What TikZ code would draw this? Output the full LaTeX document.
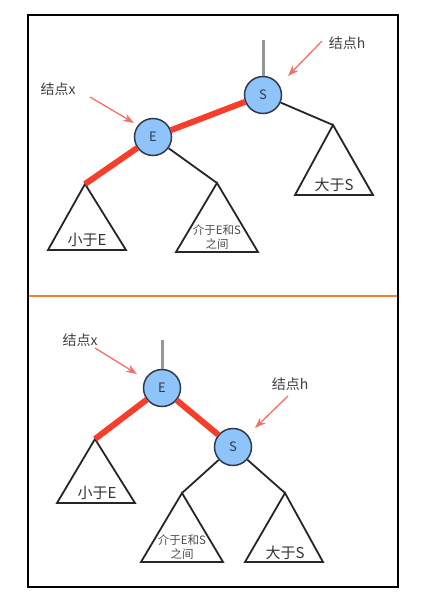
\documentclass[tikz,border=0pt]{standalone}
\usepackage{fontspec}
\newfontfamily\cjk{Noto Sans CJK SC}
\usepackage{tikz}
\usetikzlibrary{positioning, arrows.meta}
\definecolor{nodeblue}{RGB}{142,196,250}
\definecolor{nodeedge}{RGB}{48,58,78}
\definecolor{linkred}{RGB}{248,62,42}
\definecolor{pointer}{RGB}{244,112,100}
\definecolor{stubgray}{RGB}{150,150,150}
\definecolor{divider}{RGB}{245,130,40}

\begin{document}
\begin{tikzpicture}[
  x=1pt, y=-1pt,
  rb/.style={circle, draw=nodeedge, fill=nodeblue, line width=1.5pt, minimum size=37pt, inner sep=0pt, font=\cjk\fontsize{13}{13}\selectfont, text=nodeedge},
  tree/.style={draw=black!85, line width=1.8pt, line join=miter},
  edge/.style={draw=black!85, line width=1.8pt},
  redlink/.style={draw=linkred, line width=6pt},
  stub/.style={draw=stubgray, line width=3pt},
  lbl/.style={font=\cjk\fontsize{14}{14}\selectfont, text=black!75, inner sep=1pt},
  subt/.style={font=\cjk\fontsize{15}{15}\selectfont, text=black!80, inner sep=0pt},
  subtsmall/.style={font=\cjk\fontsize{11.5}{14}\selectfont, text=black!70, align=center, inner sep=0pt},
  ptr/.style={->, >={Stealth[length=11pt, width=8pt]}, draw=pointer, line width=1.3pt}
]
\useasboundingbox (0,0) rectangle (442,606);

% frame
\draw[black, line width=2.5pt] (28,15) rectangle (398,587);
\draw[divider, line width=2pt] (29,296) -- (397,296);

% ---- before rotation ----
\node[rb] (s1) at (263,95) {S};
\node[rb] (e1) at (153,137) {E};
\coordinate (lt1) at (85,184);
\coordinate (mt1) at (217,183);
\coordinate (rt1) at (333,125);
\coordinate (top1) at (263,40);

\draw[tree] (lt1) -- (48,250) -- (126,250) -- cycle;
\draw[tree] (mt1) -- (176,252) -- (258,252) -- cycle;
\draw[tree] (rt1) -- (295,195) -- (373,195) -- cycle;
\node[subt] (lt1txt) at (87,240) {小于E};
\node[subtsmall] (mt1txt) at (217,237) {介于E和S\\之间};
\node[subt] (rt1txt) at (334,185) {大于S};

\draw[stub] (top1) -- (s1);
\draw[redlink] (s1) -- (e1);
\draw[redlink] (e1) -- (lt1);
\draw[edge] (e1) -- (mt1);
\draw[edge] (s1) -- (rt1);

\node[lbl] (h1) at (347,43) {结点h};
\node[lbl] (x1) at (58,89) {结点x};
\coordinate (h1from) at (322,41);
\coordinate (x1from) at (90,97);
\draw[ptr] (h1from) -- (288,76);
\draw[ptr] (x1from) -- (134,123);

% ---- after rotation ----
\node[rb] (e2) at (162,388) {E};
\node[rb] (s2) at (233,447) {S};
\coordinate (lt2) at (95,439);
\coordinate (mt2) at (182,493);
\coordinate (rt2) at (285,493);
\coordinate (top2) at (162,340);

\draw[tree] (lt2) -- (57,503) -- (135,503) -- cycle;
\draw[tree] (mt2) -- (141,562) -- (223,562) -- cycle;
\draw[tree] (rt2) -- (245,562) -- (323,562) -- cycle;
\node[subt] (lt2txt) at (97,493) {小于E};
\node[subtsmall] (mt2txt) at (182,547) {介于E和S\\之间};
\node[subt] (rt2txt) at (285,553) {大于S};

\draw[stub] (top2) -- (e2);
\draw[redlink] (e2) -- (s2);
\draw[redlink] (e2) -- (lt2);
\draw[edge] (s2) -- (mt2);
\draw[edge] (s2) -- (rt2);

\node[lbl] (x2) at (80,340) {结点x};
\node[lbl] (h2) at (290,384) {结点h};
\coordinate (x2from) at (95,348);
\coordinate (h2from) at (288,396);
\draw[ptr] (x2from) -- (137,374);
\draw[ptr] (h2from) -- (255,428);
\end{tikzpicture}
\end{document}
